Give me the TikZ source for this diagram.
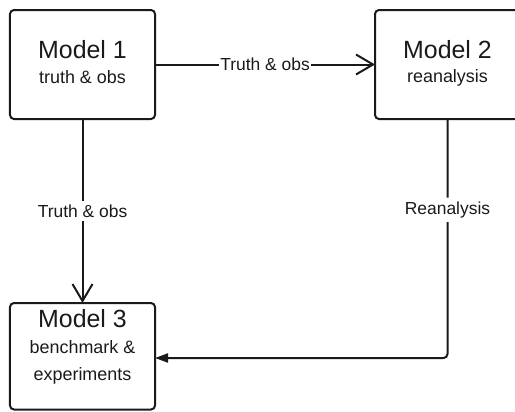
\documentclass[tikz,border=0pt]{standalone}
\usepackage{fontspec}
\setmainfont{Liberation Sans}
\usetikzlibrary{arrows.meta}
\definecolor{ink}{HTML}{1A1A1A}
\tikzset{
  modelbox/.style={draw=ink, line width=2bp, rounded corners=4bp, rectangle,
    minimum width=145bp, minimum height=109bp, inner sep=0pt, outer sep=0pt},
  title/.style={anchor=base, text=ink, font=\fontsize{25}{30}\selectfont, inner sep=0pt},
  subtitle/.style={anchor=base, text=ink, font=\fontsize{18}{22}\selectfont, inner sep=0pt},
  flow/.style={draw=ink, line width=2bp},
  openhead/.style={-{Straight Barb[length=17bp,width=20bp]}},
  solidhead/.style={-{Triangle[length=13bp,width=9bp]}},
  flowlabel/.style={fill=white, text=ink, font=\fontsize{17.5}{21}\selectfont,
    inner xsep=1.5bp, inner ysep=4bp}
}
\begin{document}
\begin{tikzpicture}[x=1bp, y=-1bp]
  \useasboundingbox (0,0) rectangle (515,411);
  \begin{scope}
    \clip (0,0) rectangle (515,411);
    % model boxes
    \node[modelbox] (m1) at (82.5,64.5) {};
    \node[modelbox] (m2) at (447.5,64.5) {};
    \node[modelbox, minimum height=106.5bp] (m3) at (82.5,356.25) {};
  \end{scope}

  % box texts
  \node[title] (m1t) at (82.5,58) {Model 1};
  \node[subtitle] (m1s) at (82.5,83) {truth \& obs};
  \node[title] (m2t) at (447.5,58) {Model 2};
  \node[subtitle] (m2s) at (447.5,82) {reanalysis};
  \node[title] (m3t) at (82.5,327) {Model 3};
  \node[subtitle] (m3s) at (82.5,353) {benchmark \&};
  \node[subtitle] (m3u) at (82.5,380) {experiments};

  % connectors
  \coordinate (turn) at (447.5,358);
  \draw[flow, openhead] (m1.east) -- node[flowlabel] {Truth \& obs} (m2.west);
  \draw[flow, openhead] (m1.south) -- node[flowlabel] {Truth \& obs} (m3.north);
  \draw[flow, solidhead, rounded corners=4bp] (m2.south)
    -- node[flowlabel, pos=0.38] {Reanalysis} (turn) -- (turn -| m3.east);
\end{tikzpicture}
\end{document}
